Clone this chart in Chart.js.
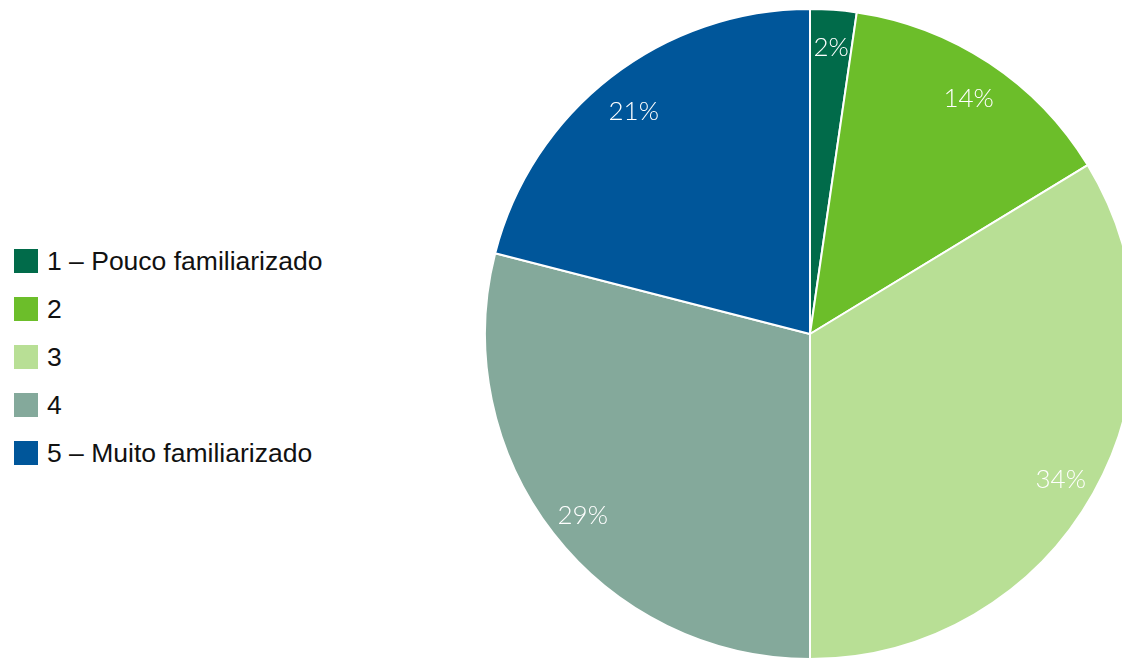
<!DOCTYPE html>
<html>
<head>
<meta charset="utf-8">
<script src="https://cdn.jsdelivr.net/npm/chart.js@4/dist/chart.umd.min.js"></script>
<style>
    html, body { margin: 0; padding: 0; background: #fff; }
    body { width: 1122px; height: 658px; overflow: hidden; position: relative; }
    #pieChart { position: absolute; left: 484px; top: 8px; }
    #legend { position: absolute; left: 14px; top: 249px; font-family: "Liberation Sans", Arial, sans-serif; font-size: 26.5px; color: #111; }
    .item { height: 24px; margin-bottom: 24px; display: flex; align-items: center; }
    .box { width: 24px; height: 24px; margin-right: 9px; }
</style>
</head>
<body>
<div id="legend"></div>
<canvas id="pieChart" width="652" height="652"></canvas>
<script>
let labels = ["1 \u2013 Pouco familiarizado", "2", "3", "4", "5 \u2013 Muito familiarizado"];
let values = [2.3, 14.0, 33.7, 29.0, 21.0];
let shown = ["2%", "14%", "34%", "29%", "21%"];
let colors = ["#016B4A", "#6CBE2A", "#B8DF95", "#84A99B", "#00569A"];

let legend = document.getElementById("legend");
labels.forEach((l, i) => {
    legend.innerHTML += `<div class="item"><div class="box" style="background:${colors[i]}"></div>${l}</div>`;
});

const sliceLabels = {
    id: "sliceLabels",
    afterDatasetsDraw(chart) {
        let ctx = chart.ctx;
        let meta = chart.getDatasetMeta(0);
        ctx.save();
        ctx.fillStyle = "#fff";
        ctx.font = "300 26px Lato, 'DejaVu Sans', sans-serif";
        ctx.textAlign = "center";
        ctx.textBaseline = "middle";
        meta.data.forEach((arc, i) => {
            let p = arc.getProps(["x", "y", "startAngle", "endAngle", "outerRadius"], true);
            let mid = (p.startAngle + p.endAngle) / 2;
            let r = p.outerRadius * (i === 0 ? 0.9 : 0.885);
            // lato sits a bit high with "middle"
            ctx.fillText(shown[i], p.x + Math.cos(mid) * r, p.y + Math.sin(mid) * r + 5);
        });
        ctx.restore();
    }
};

new Chart(document.getElementById("pieChart"), {
    type: "pie",
    data: {
        labels: labels,
        datasets: [{
            data: values,
            backgroundColor: colors,
            borderColor: "#fff",
            borderWidth: 2
        }]
    },
    options: {
        responsive: false,
        animation: false,
        layout: { padding: 0 },
        plugins: {
            legend: { display: false },
            tooltip: { enabled: false }
        }
    },
    plugins: [sliceLabels]
});
</script>
</body>
</html>
